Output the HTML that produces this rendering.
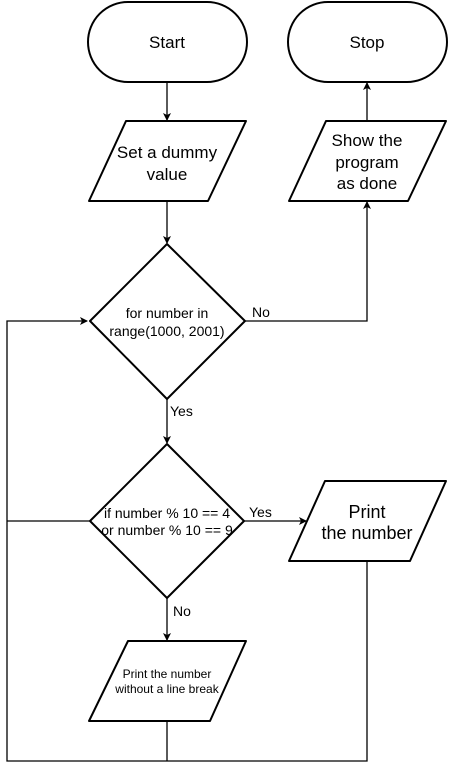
<!DOCTYPE html>
<html><head><style>body{margin:0;background:#fff}svg{display:block}text{font-family:"Liberation Sans",sans-serif;fill:#000}</style></head><body>
<svg width="449" height="763" viewBox="0 0 449 763" xmlns="http://www.w3.org/2000/svg">
<defs><marker id="a" markerWidth="8" markerHeight="8" refX="7" refY="4" orient="auto" markerUnits="userSpaceOnUse"><path d="M0,0 L8,4 L0,8 L2,4 Z" fill="#000"/></marker></defs>
<g fill="#fff" stroke="#000" stroke-width="2" stroke-linejoin="round">
<rect x="88" y="2" width="159" height="80" rx="40"/>
<rect x="288" y="2" width="159" height="80" rx="40"/>
<path d="M126,121 L246,121 L208,201 L89,201 Z"/>
<path d="M326,121 L446,121 L408,201 L289,201 Z"/>
<path d="M167,244 L245,321 L167,399 L90,321 Z"/>
<path d="M167,444 L244,521 L167,598 L90,521 Z"/>
<path d="M325,481 L446,481 L410,561 L289,561 Z"/>
<path d="M128,641 L246,641 L210,721 L89,721 Z"/>
</g>
<g stroke="#000" stroke-width="1.3" fill="none">
<path d="M167,82 V120" marker-end="url(#a)"/>
<path d="M167,201 V243" marker-end="url(#a)"/>
<path d="M245,321 H367 V202" marker-end="url(#a)"/>
<path d="M367,121 V83" marker-end="url(#a)"/>
<path d="M167,399 V443" marker-end="url(#a)"/>
<path d="M244,521 H306" marker-end="url(#a)"/>
<path d="M167,598 V640" marker-end="url(#a)"/>
<path d="M367,561 V761 H7 V321 H87" marker-end="url(#a)"/>
<path d="M90,521 H7"/>
<path d="M167,721 V761"/>
</g>
<g text-anchor="middle">
<text x="167" y="48" font-size="17">Start</text>
<text x="367" y="48" font-size="17">Stop</text>
<text x="167" y="158" font-size="17">Set a dummy</text>
<text x="167" y="180" font-size="17">value</text>
<text x="367" y="146" font-size="17">Show the</text>
<text x="367" y="168" font-size="17">program</text>
<text x="367" y="189" font-size="17">as done</text>
<text x="167" y="318" font-size="14">for number in</text>
<text x="167" y="336" font-size="14">range(1000, 2001)</text>
<text x="167" y="518" font-size="14">if number % 10 == 4</text>
<text x="167" y="535" font-size="14">or number % 10 == 9</text>
<text x="367" y="518" font-size="18">Print</text>
<text x="367" y="539" font-size="18">the number</text>
<text x="167" y="678" font-size="12">Print the number</text>
<text x="167" y="693" font-size="12">without a line break</text>
</g>
<g font-size="14">
<text x="252" y="317">No</text>
<text x="170" y="416">Yes</text>
<text x="249" y="517">Yes</text>
<text x="173" y="616">No</text>
</g>
</svg>
</body></html>
